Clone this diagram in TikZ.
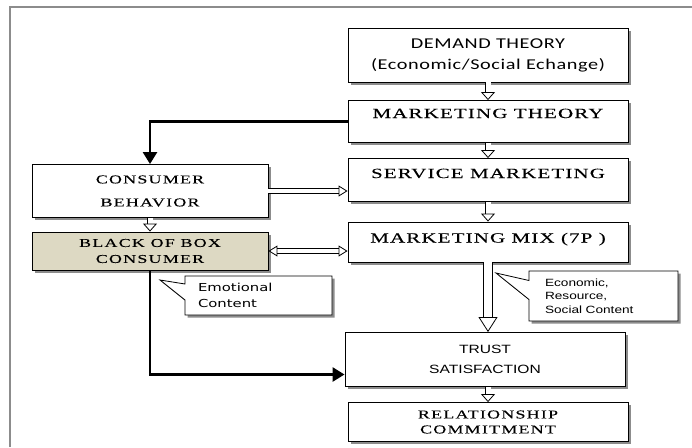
\documentclass[tikz,border=0pt]{standalone}
\usepackage{fontspec}
\usetikzlibrary{arrows.meta,positioning,shapes.callouts,shadows}
\newfontfamily\calfont[FakeStretch=1.35,LetterSpace=4]{Carlito}
\newfontfamily\serfont[FakeStretch=1.5,LetterSpace=8,FakeBold=0.15]{Liberation Serif}
\newfontfamily\wideserfont[FakeStretch=1.5,LetterSpace=10,FakeBold=0.15]{Liberation Serif}
\newfontfamily\arialfont[FakeStretch=1.3]{Liberation Sans}
\newfontfamily\dejafont[FakeStretch=1.35]{DejaVu Sans}
\definecolor{boxtan}{RGB}{221,217,195}
\tikzset{
box/.style = {draw, fill=white, rectangle, line width=0.9pt, align=center, inner sep=0pt,
  drop shadow={shadow xshift=2.5pt, shadow yshift=-2.5pt, fill=black!45, opacity=1}},
mainbox/.style = {box, minimum width=280pt},
sidebox/.style = {box, minimum width=236pt},
note/.style = {draw, fill=white, rectangle callout, line width=0.8pt, align=left, inner ysep=0pt,
  drop shadow={shadow xshift=2.5pt, shadow yshift=-2.5pt, fill=black!45, opacity=1}},
hollow/.style = {double distance=5pt, line width=0.8pt, -{Triangle[open, length=8pt, width=14pt]}},
sidehollow/.style = {double distance=3.5pt, line width=0.8pt, -{Triangle[open, length=9pt, width=11pt]}},
bighollow/.style = {double distance=8pt, line width=0.8pt, -{Triangle[open, length=15pt, width=19pt]}},
heavy/.style = {line width=2.6pt, -{Triangle[length=12pt, width=14pt]}},
frame/.style = {draw=black!45, line width=1.8pt}
}

\begin{document}
\begin{tikzpicture}[x=1pt, y=1pt, node distance=60pt]
  \useasboundingbox (0,0) rectangle (692,-447);
  \draw [frame] (10,-447) |- (692,-7);

  % main column
  \node [mainbox, minimum height=54pt, font=\calfont\fontsize{15}{21}\selectfont] (demand) at (488,-55) {DEMAND THEORY\\(Economic/Social Echange)};
  \node [mainbox, minimum height=42pt, below of=demand, node distance=66.5pt, text height=10pt, text depth=17pt, font=\serfont\fontsize{14}{16}\selectfont] (mtheory) {MARKETING THEORY};
  \node [mainbox, minimum height=43pt, below of=mtheory, node distance=58.5pt, text height=10pt, text depth=14pt, font=\serfont\fontsize{14}{16}\selectfont] (service) {SERVICE MARKETING};
  \node [mainbox, minimum height=40pt, below of=service, node distance=62pt, text height=10pt, text depth=9pt, font=\serfont\fontsize{14}{16}\selectfont] (mix) {MARKETING MIX (7P )};
  \node [mainbox, minimum height=54pt, below of=mix, node distance=117.5pt, xshift=-3pt, font=\arialfont\fontsize{12}{20}\selectfont] (trust) {TRUST\\SATISFACTION};
  \node [mainbox, minimum height=39pt, below of=trust, node distance=62.5pt, xshift=3pt, font=\wideserfont\fontsize{12}{15}\selectfont] (relation) {RELATIONSHIP\\COMMITMENT};

  % left column
  \node [sidebox, minimum height=53pt, font=\wideserfont\fontsize{12}{23}\selectfont] (behav) at (150,-191) {CONSUMER\\BEHAVIOR};
  \node [sidebox, minimum height=38pt, below of=behav, fill=boxtan, font=\wideserfont\fontsize{12}{16}\selectfont] (blackbox) {BLACK OF BOX\\CONSUMER};

  % callouts
  \coordinate (emotip) at (160,-280);
  \coordinate (ecotip) at (496,-273);
  \node [note, callout absolute pointer={(emotip)}, callout pointer width=16pt, minimum height=39pt, inner xsep=13pt, text width=121pt, font=\dejafont\fontsize{11}{16}\selectfont] (emo) at (258.5,-295.5) {Emotional\\Content};
  \node [note, callout absolute pointer={(ecotip)}, callout pointer width=19pt, minimum height=50pt, inner xsep=16pt, text width=117pt, font=\arialfont\fontsize{10.5}{13.5}\selectfont] (eco) at (603.5,-296) {Economic,\\Resource,\\Social Content};

  \draw [hollow] (demand) -- (mtheory);
  \draw [hollow] (mtheory) -- (service);
  \draw [hollow] (service) -- (mix);
  \draw [bighollow] (mix.south) -- (mix.south |- trust.north);
  \draw [hollow] (trust.south -| relation.north) -- (relation.north);
  \draw [hollow] (behav) -- (blackbox);
  \draw [sidehollow] (behav.east) -- (behav.east -| service.west);
  \draw [sidehollow, {Triangle[open, length=9pt, width=11pt]}-{Triangle[open, length=9pt, width=11pt]}] (blackbox.east) -- (blackbox.east -| mix.west);
  \draw [heavy] (mtheory.west) -| (behav.north);
  \draw [heavy] (blackbox.south) |- ([yshift=-15pt]trust.west);
\end{tikzpicture}
\end{document}
